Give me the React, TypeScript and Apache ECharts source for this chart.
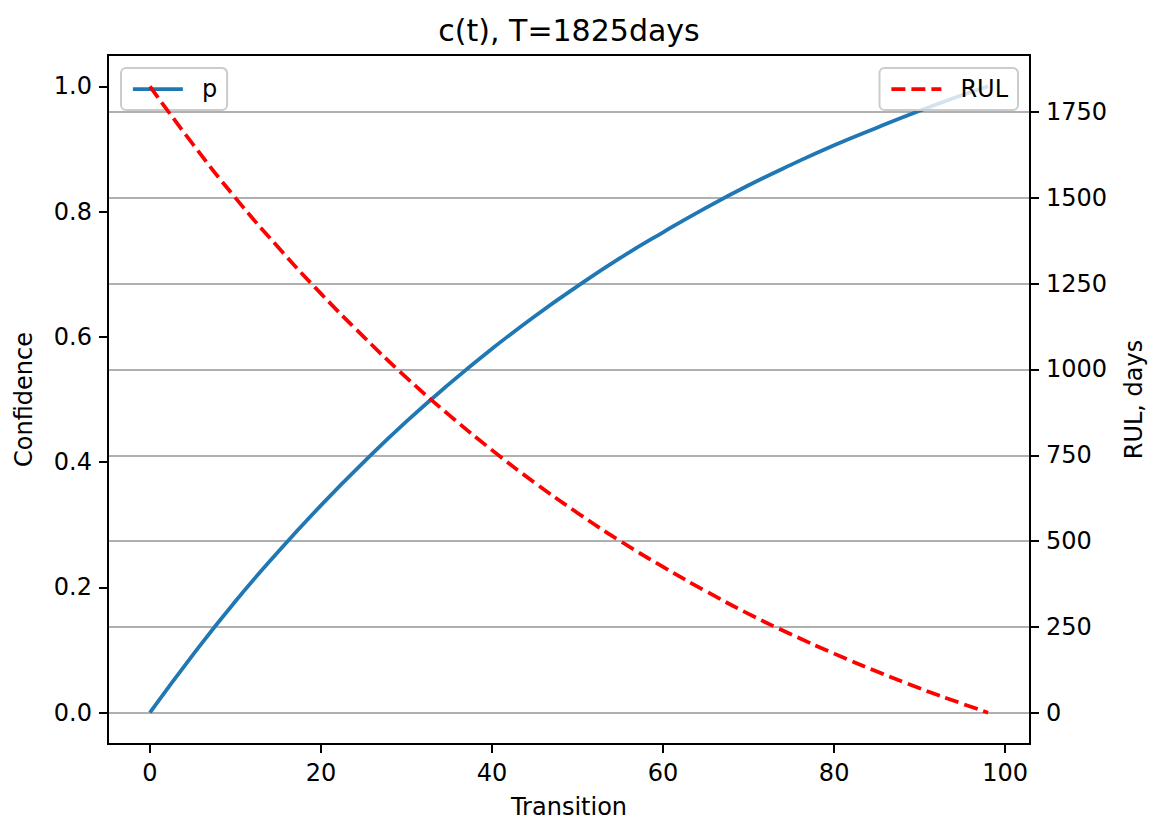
import React, { useEffect, useRef } from "react";
import * as echarts from "echarts";

const transitions = [0, 5, 10, 15, 20, 25, 30, 35, 40, 45, 50, 55, 60, 65, 70, 75, 80, 85, 90, 95, 98];
const confidence = [0, 0.092, 0.178, 0.257, 0.331, 0.4, 0.465, 0.525, 0.581, 0.633, 0.681, 0.726, 0.767, 0.806, 0.842, 0.875, 0.906, 0.934, 0.961, 0.986, 1.0];
const rulDays = [1825, 1657, 1500, 1356, 1221, 1095, 976, 867, 765, 670, 582, 500, 425, 354, 288, 228, 172, 120, 71, 26, 0];
const xTicks = [0, 20, 40, 60, 80, 100];
const confTicks = [0, 0.2, 0.4, 0.6, 0.8, 1.0];
const rulTicks = [0, 250, 500, 750, 1000, 1250, 1500, 1750];

const FONT = "DejaVu Sans";
const TICK_FS = 24;
const LABEL_FS = 24;
const TITLE_FS = 30;

export default function App() {
  const ref = useRef<HTMLDivElement>(null);
  useEffect(() => {
    document.body.style.margin = "0";
    document.documentElement.style.overflow = "hidden";
    document.body.style.overflow = "hidden";
    const chart = echarts.init(ref.current!, null, { renderer: "svg" });
    const axisCommon = {
      axisLine: { show: true, onZero: false, lineStyle: { color: "#000", width: 2 } },
      axisTick: { show: true, inside: false, length: 9, lineStyle: { color: "#000", width: 2 } },
      nameTextStyle: { fontFamily: FONT, fontSize: LABEL_FS, color: "#000", lineHeight: 26 },
    };
    const legendCommon = {
      orient: "horizontal",
      itemWidth: 50,
      itemHeight: 14,
      padding: [9, 10, 9, 10],
      backgroundColor: "rgba(255,255,255,0.8)",
      borderColor: "#cccccc",
      borderWidth: 2,
      borderRadius: 5,
      itemStyle: { opacity: 0, color: "transparent", borderColor: "transparent", borderWidth: 0 },
      textStyle: { fontFamily: FONT, fontSize: TICK_FS, color: "#000", padding: [0, 0, 0, 14] },
    };
    chart.setOption({
      animation: false,
      backgroundColor: "#fff",
      graphic: [
        {
          type: "text",
          x: 569,
          y: 30,
          style: {
            text: "c(t), T=1825days",
            textAlign: "center",
            textVerticalAlign: "middle",
            fontFamily: FONT,
            fontSize: TITLE_FS,
            fill: "#000",
          },
        },
      ],
      grid: {
        left: 108,
        top: 55,
        right: 120,
        bottom: 76,
        containLabel: false,
        outerBoundsMode: "none",
        show: true,
        borderColor: "#000",
        borderWidth: 2,
        backgroundColor: "transparent",
      },
      legend: [
        {
          ...legendCommon,
          data: ["p"],
          left: 121,
          top: 68,
          lineStyle: { width: 3.75 },
        },
        {
          ...legendCommon,
          data: ["RUL"],
          right: 132,
          top: 68,
          lineStyle: { width: 3.75, type: [14, 6] },
        },
      ],
      xAxis: {
        type: "value",
        min: -4.9,
        max: 102.9,
        name: "Transition",
        nameLocation: "middle",
        nameGap: 50,
        ...axisCommon,
        axisTick: { ...axisCommon.axisTick, customValues: xTicks },
        axisLabel: {
          customValues: xTicks,
          margin: 17,
          fontFamily: FONT,
          fontSize: TICK_FS,
          color: "#000",
        },
        splitLine: { show: false },
      },
      yAxis: [
        {
          type: "value",
          min: -0.05,
          max: 1.05,
          position: "left",
          name: "Confidence",
          nameLocation: "middle",
          nameGap: 71,
          ...axisCommon,
          axisTick: { ...axisCommon.axisTick, customValues: confTicks },
          axisLabel: {
            customValues: confTicks,
            margin: 16,
            fontFamily: FONT,
            fontSize: TICK_FS,
            color: "#000",
            formatter: (v: number) => v.toFixed(1),
          },
          splitLine: { show: false },
        },
        {
          type: "value",
          min: -91.25,
          max: 1916.25,
          position: "right",
          name: "RUL, days",
          nameLocation: "middle",
          nameGap: 91,
          ...axisCommon,
          axisTick: { ...axisCommon.axisTick, customValues: rulTicks },
          axisLabel: {
            customValues: rulTicks,
            margin: 16,
            fontFamily: FONT,
            fontSize: TICK_FS,
            color: "#000",
            formatter: (v: number) => String(Math.round(v)),
          },
          splitLine: { show: true, lineStyle: { color: "#b0b0b0", width: 2 } },
        },
      ],
      series: [
        {
          name: "p",
          type: "line",
          xAxisIndex: 0,
          yAxisIndex: 0,
          data: transitions.map((x, i) => [x, confidence[i]]),
          smooth: true,
          symbol: "none",
          showSymbol: false,
          lineStyle: { color: "#1f77b4", width: 3.75 },
          itemStyle: { color: "#1f77b4" },
          z: 3,
        },
        {
          name: "RUL",
          type: "line",
          xAxisIndex: 0,
          yAxisIndex: 1,
          data: transitions.map((x, i) => [x, rulDays[i]]),
          smooth: true,
          symbol: "none",
          showSymbol: false,
          lineStyle: { color: "#ff0000", width: 3.75, type: [14, 6] },
          itemStyle: { color: "#ff0000" },
          z: 4,
        },
      ],
    });
    return () => chart.dispose();
  }, []);
  return <div ref={ref} style={{ width: 1150, height: 820, background: "#fff" }} />;
}
